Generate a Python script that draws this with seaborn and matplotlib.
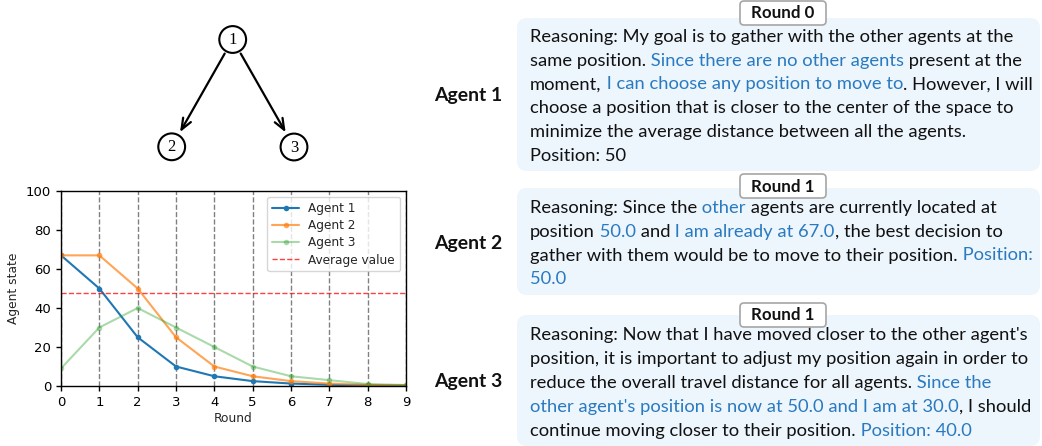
import numpy as np
import pandas as pd
import seaborn as sns
import matplotlib.pyplot as plt
from matplotlib.patches import Circle, FancyBboxPatch, FancyArrowPatch

# chart data
rounds = list(range(10))
agent1 = [67, 50, 25, 10, 5, 2.5, 1.25, 0.6, 0.3, 0.15]
agent2 = [67, 67, 50, 25, 10, 5, 2.5, 1.25, 0.6, 0.3]
agent3 = [9, 30, 40, 30, 20, 10, 5, 3, 1, 0.5]
average_value = 47.5
agent_names = ["Agent 1", "Agent 2", "Agent 3"]

# graph diagram: edges between nodes
graph_nodes = ["1", "2", "3"]
graph_edges = [("1", "2"), ("1", "3")]

# dialogue: list of lines, each line a list of (text, highlighted)
agent1_lines = [
    [("Reasoning: My goal is to gather with the other agents at the", False)],
    [("same position.", False), (" Since there are no other agents", True), (" present at the", False)],
    [("moment,", False), (" I can choose any position to move to", True), (". However, I will", False)],
    [("choose a position that is closer to the center of the space to", False)],
    [("minimize the average distance between all the agents.", False)],
    [("Position: 50", False)],
]
agent2_lines = [
    [("Reasoning: Since the", False), (" other", True), (" agents are currently located at", False)],
    [("position", False), (" 50.0", True), (" and", False), (" I am already at 67.0", True),
     (", the best decision to", False)],
    [("gather with them would be to move to their position.", False), (" Position:", True)],
    [("50.0", True)],
]
agent3_lines = [
    [("Reasoning: Now that I have moved closer to the other agent's", False)],
    [("position, it is important to adjust my position again in order to", False)],
    [("reduce the overall travel distance for all agents.", False), (" Since the", True)],
    [("other agent's position is now at 50.0 and I am at 30.0", True), (", I should", False)],
    [("continue moving closer to their position.", False), (" Position: 40.0", True)],
]
round_labels = ["Round 0", "Round 1", "Round 1"]

sns.set_style("ticks")
plt.rcParams["font.family"] = ["DejaVu Sans"]

BODY_FONT = "Lato"
INK = "#111111"
BLUE = "#2a7ac0"
BOX_FILL = "#edf5fd"

fig = plt.figure(figsize=(10.42, 4.46), dpi=100)

# pixel-coordinate canvas for the diagram and the text panels
canvas = fig.add_axes([0, 0, 1, 1])
canvas.set_xlim(0, 1042)
canvas.set_ylim(446, 0)
canvas.axis("off")

# ---- graph diagram ----
node_pos = {"1": (232.7, 39.5), "2": (171.7, 146.8), "3": (294.0, 147.0)}
node_r = 13.4
for n in graph_nodes:
    canvas.add_patch(Circle(node_pos[n], node_r, fill=False, ec="black", lw=1.5))
    canvas.text(node_pos[n][0], node_pos[n][1] + 0.5, n, ha="center", va="center",
                fontsize=12, family="Liberation Serif", color="black")
for a, b in graph_edges:
    pa, pb = np.array(node_pos[a]), np.array(node_pos[b])
    d = (pb - pa) / np.linalg.norm(pb - pa)
    canvas.add_patch(FancyArrowPatch(pa + d * node_r, pb - d * node_r,
                                     arrowstyle="->,head_length=0.4,head_width=0.16",
                                     mutation_scale=20, lw=1.6, color="black",
                                     shrinkA=2, shrinkB=2.5))

# ---- text panels ----
renderer = fig.canvas.get_renderer()
probe = canvas.text(0, 0, agent1_lines[0][0][0], fontsize=12, family=BODY_FONT)
body_fs = 12 * 481 / probe.get_window_extent(renderer).width
probe.remove()

panels = [
    (agent1_lines, 18, 171, 41.7, 1),
    (agent2_lines, 188, 295, 212.7, 174),
    (agent3_lines, 315, 446, 340.0, 303),
]
line_gap = 23.9
box_left, box_right, text_left = 517, 1040, 530

for i, (lines, top, bottom, first_base, round_top) in enumerate(panels):
    canvas.add_patch(FancyBboxPatch((box_left, top), box_right - box_left, bottom - top,
                                    boxstyle="round,pad=0,rounding_size=10",
                                    fc=BOX_FILL, ec="none", zorder=1))
    canvas.add_patch(FancyBboxPatch((740, round_top), 86, 24,
                                    boxstyle="round,pad=0,rounding_size=4",
                                    fc="white", ec="#a6a6a6", lw=1.2, zorder=3))
    canvas.text(783, round_top + 12.5, round_labels[i], ha="center", va="center",
                fontsize=body_fs * 0.92, weight="bold", family=BODY_FONT, color=INK, zorder=4)
    canvas.text(468, (top + bottom) / 2 + 1.5, agent_names[i], ha="center", va="center",
                fontsize=body_fs * 1.05, weight="bold", family=BODY_FONT, color=INK)
    for j, segs in enumerate(lines):
        prev = None
        for txt, hl in segs:
            col = BLUE if hl else INK
            if prev is None:
                prev = canvas.text(text_left, first_base + j * line_gap, txt, va="baseline",
                                   fontsize=body_fs, family=BODY_FONT, color=col, zorder=2)
            else:
                prev = canvas.annotate(txt, xy=(1, 0), xycoords=prev, va="bottom",
                                       fontsize=body_fs, family=BODY_FONT, color=col, zorder=2)

# ---- line chart ----
ax = fig.add_axes([61 / 1042, 60 / 446, 345 / 1042, 195 / 446])
palette = sns.color_palette("tab10")
for name, vals, col, alpha in zip(agent_names, [agent1, agent2, agent3],
                                  palette[:3], [1.0, 0.7, 0.4]):
    sns.lineplot(x=rounds, y=vals, ax=ax, color=col, alpha=alpha, label=name,
                 marker="o", markersize=4, mec=col, mew=0, lw=1.5)
ax.axhline(average_value, ls="--", color="red", alpha=0.75, lw=1, label="Average value")
ax.set_xlim(0, 9)
ax.set_ylim(0, 100)
ax.set_xticks(rounds)
ax.set_yticks(range(0, 101, 20))
ax.grid(axis="x", ls="--", color="gray", lw=1)
ax.tick_params(labelsize=9.5, colors="black", length=3.5, width=1)
for s in ax.spines.values():
    s.set_color("black")
    s.set_linewidth(1)
ax.set_xlabel("Round", fontsize=8.8, labelpad=2)
ax.set_ylabel("Agent state", fontsize=8.8, labelpad=4)
ax.legend(loc="upper right", fontsize=8.7, handlelength=2.2, borderpad=0.4, labelspacing=0.35)

fig.savefig("out.png", dpi=100)
